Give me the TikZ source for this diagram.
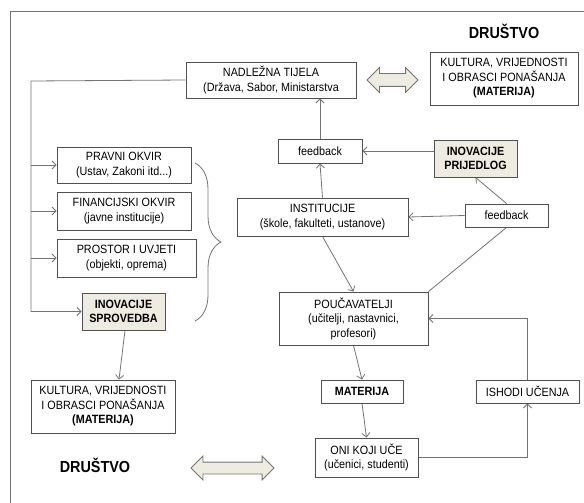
\documentclass[tikz,border=0pt]{standalone}
\usepackage{fontspec}
\setmainfont{Liberation Sans}[FakeStretch=0.9]
\usetikzlibrary{arrows.meta,shapes.arrows,decorations.pathreplacing}
\pgfdeclarelayer{bg}
\pgfsetlayers{bg,main}
\definecolor{boxline}{RGB}{80,80,80}
\definecolor{wire}{RGB}{115,115,115}
\definecolor{beige}{RGB}{238,236,225}

\begin{document}
\begin{tikzpicture}[x=1pt, y=-1pt,
        box/.style={draw=boxline, line width=0.9pt, fill=white, inner sep=0pt, align=center, font=\fontsize{12}{14.5}\selectfont},
        inov/.style={box, fill=beige, font=\fontsize{12}{14.5}\selectfont\bfseries},
        title/.style={inner sep=0pt, font=\fontsize{16}{18}\selectfont\bfseries},
        wireline/.style={draw=wire, line width=0.8pt},
        arr/.style={wireline, -{Straight Barb[length=4pt,width=8pt]}},
        dbl/.style={double arrow, draw=wire, fill=beige, line width=0.8pt, double arrow head extend=6pt}]
        \useasboundingbox (0,0) rectangle (584,503);
        \node (drTop) [title] at (504,31) {DRUŠTVO};
        \node (drBot) [title] at (95,465) {DRUŠTVO};
        \node (nad) [box, minimum width=170pt, minimum height=36pt] at (271,80) {NADLEŽNA TIJELA\\(Država, Sabor, Ministarstva};
        \node (kultTop) [box, minimum width=148pt, minimum height=53pt] at (504,78.5) {KULTURA, VRIJEDNOSTI\\I OBRASCI PONAŠANJA\\\textbf{(MATERIJA)}};
        \node (arrTop) [dbl, inner sep=6pt, minimum height=51pt, minimum width=24pt] at (392.5,80) {};
        \node (fbTop) [box, minimum width=84pt, minimum height=24pt] at (320,151) {feedback};
        \node (inovPrij) [inov, minimum width=83pt, minimum height=37pt] at (475.5,158.5) {INOVACIJE\\PRIJEDLOG};
        \node (pravni) [box, minimum width=134pt, minimum height=36pt] at (124,165) {PRAVNI OKVIR\\(Ustav, Zakoni itd...)};
        \node (fin) [box, minimum width=134pt, minimum height=38pt] at (124,211) {FINANCIJSKI OKVIR\\(javne institucije)};
        \node (prostor) [box, minimum width=139pt, minimum height=38pt] at (126.5,258) {PROSTOR I UVJETI\\(objekti, oprema)};
        \node (inovSpr) [inov, minimum width=83pt, minimum height=37pt] at (123.5,311.5) {INOVACIJE\\SPROVEDBA};
        \node (inst) [box, minimum width=171pt, minimum height=38pt] at (322.5,217) {INSTITUCIJE\\(škole, fakulteti, ustanove)};
        \node (fbLow) [box, minimum width=83pt, minimum height=23pt] at (506.5,215.5) {feedback};
        \node (pouc) [box, minimum width=149pt, minimum height=53pt] at (353.5,318.5) {POUČAVATELJI\\(učitelji, nastavnici,\\profesori)};
        \node (mat) [box, minimum width=82pt, minimum height=23pt, font=\fontsize{12}{14.5}\selectfont\bfseries] at (362,391.5) {MATERIJA};
        \node (ishodi) [box, minimum width=103pt, minimum height=23pt] at (527.5,391.5) {ISHODI UČENJA};
        \node (oni) [box, minimum width=103pt, minimum height=39pt] at (366.5,457.5) {ONI KOJI UČE\\(učenici, studenti)};
        \node (kultBot) [box, minimum width=144pt, minimum height=53pt] at (103,406.5) {KULTURA, VRIJEDNOSTI\\I OBRASCI PONAŠANJA\\\textbf{(MATERIJA)}};
        \node (arrBot) [dbl, inner sep=5.5pt, minimum height=83pt, minimum width=23pt] at (232.5,468) {};
        \coordinate (trunk) at (31,81);
        \coordinate (brTop) at (195,163);
        \coordinate (brBot) at (195,321);
        \begin{pgfonlayer}{bg}
                \draw [wireline] (584,11) -- (10,11) -- (10,503);
                \draw [arr] (nad.west) -- (trunk) |- (inovSpr.west);
                \draw (trunk |- pravni.west) edge [arr] (pravni.west);
                \draw (trunk |- fin.west) edge [arr] (fin.west);
                \draw (trunk |- prostor.west) edge [arr] (prostor.west);
                \draw [wireline, decorate, decoration={brace, amplitude=26pt, aspect=0.5}] (brTop) -- (brBot);
                \draw (fbTop.north) edge [arr] (fbTop.north |- nad.south);
                \draw (inst.north) edge [arr] (fbTop.south);
                \draw (inovPrij.west |- fbTop.east) edge [arr] (fbTop.east);
                \draw (fbLow.west) edge [arr] (inst.east);
                \draw (fbLow.north) edge [arr] (inovPrij.south);
                \draw (fbLow.south) edge [wireline] (pouc.north east);
                \draw (inst.south) edge [arr] (pouc.north);
                \draw (pouc.south) edge [arr] (mat.north);
                \draw (mat.south) edge [arr] (oni.north);
                \draw [arr] (oni.east) -| (ishodi.south);
                \draw [arr] (ishodi.north) |- (pouc.east);
                \draw ([xshift=1.5pt]inovSpr.south) edge [arr] ([xshift=16pt]kultBot.north);
        \end{pgfonlayer}
\end{tikzpicture}
\end{document}
